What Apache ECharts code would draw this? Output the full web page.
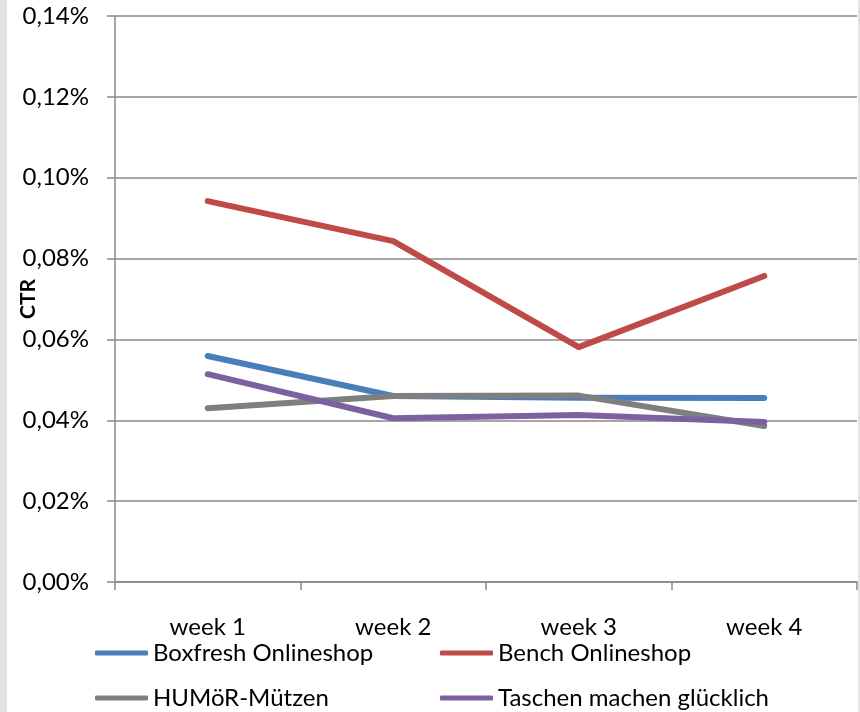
<!DOCTYPE html>
<html>
<head>
<meta charset="utf-8">
<script src="https://cdn.jsdelivr.net/npm/echarts@6/dist/echarts.min.js"></script>
<style>
html,body{margin:0;padding:0;background:#fff;}
#chart{width:860px;height:712px;}
</style>
</head>
<body>
<div id="chart"></div>
<script>
const categories = ['week 1', 'week 2', 'week 3', 'week 4'];
const seriesNames = ['Boxfresh Onlineshop', 'Bench Onlineshop', 'HUMöR-Mützen', 'Taschen machen glücklich'];
const boxfresh = [0.0559, 0.0460, 0.0456, 0.0455];
const bench = [0.0942, 0.0843, 0.0581, 0.0757];
const humor = [0.0430, 0.0460, 0.0461, 0.0386];
const taschen = [0.0514, 0.0405, 0.0413, 0.0396];
const yTicks = [0, 0.02, 0.04, 0.06, 0.08, 0.10, 0.12, 0.14];

const colors = ['#4a7ebb', '#be4b48', '#7f7f7f', '#7d60a0'];
const FONT = 'Lato';
const FS = 24;
const chart = echarts.init(document.getElementById('chart'));

const dataSets = [boxfresh, bench, humor, taschen];
const legendPos = [[95, 641], [440, 641], [95, 686], [440, 686]];

chart.setOption({
  animation: false,
  backgroundColor: '#fff',
  textStyle: { fontFamily: FONT },
  graphic: [
    { type: 'rect', shape: { x: 0, y: 0, width: 7, height: 712 }, style: { fill: '#e3e3e3' }, silent: true },
    { type: 'rect', shape: { x: 858, y: 0, width: 2, height: 712 }, style: { fill: '#e3e3e3' }, silent: true }
  ],
  grid: { left: 115, right: 3, top: 16, bottom: 130, containLabel: false, outerBoundsMode: 'none' },
  legend: seriesNames.map((n, i) => ({
    data: [n],
    left: legendPos[i][0],
    top: legendPos[i][1],
    padding: 0,
    itemWidth: 53,
    itemHeight: 5,
    icon: 'roundRect',
    itemGap: 0,
    textStyle: { fontFamily: FONT, fontSize: FS, color: '#000', padding: [0, 0, 0, 0] },
    selectedMode: false
  })),
  xAxis: {
    type: 'category',
    data: categories,
    boundaryGap: true,
    axisLine: { show: true, lineStyle: { color: '#888', width: 1.5 } },
    axisTick: { show: true, length: 8, alignWithLabel: false, lineStyle: { color: '#888', width: 1.5 } },
    axisLabel: { fontFamily: FONT, fontSize: FS, color: '#000', margin: 33 },
    splitLine: { show: false }
  },
  yAxis: {
    type: 'value',
    min: 0,
    max: 0.14,
    interval: 0.02,
    name: 'CTR',
    nameLocation: 'middle',
    nameGap: 76,
    nameMoveOverlap: false,
    nameRotate: 90,
    nameTextStyle: { fontFamily: FONT, fontSize: 21, fontWeight: 'bold', color: '#000' },
    axisLine: { show: true, lineStyle: { color: '#888', width: 1.5 } },
    axisTick: { show: true, length: 8, lineStyle: { color: '#888', width: 1.5 } },
    axisLabel: {
      fontFamily: FONT, fontSize: FS, color: '#000', margin: 26,
      formatter: v => v.toFixed(2).replace('.', ',') + '%'
    },
    splitLine: { show: true, lineStyle: { color: '#888', width: 1.5 } }
  },
  series: seriesNames.map((n, i) => ({
    name: n,
    type: 'line',
    data: dataSets[i],
    symbol: 'none',
    smooth: false,
    lineStyle: { color: colors[i], width: 6, cap: 'round', join: 'round' },
    itemStyle: { color: colors[i] }
  }))
});
</script>
</body>
</html>
